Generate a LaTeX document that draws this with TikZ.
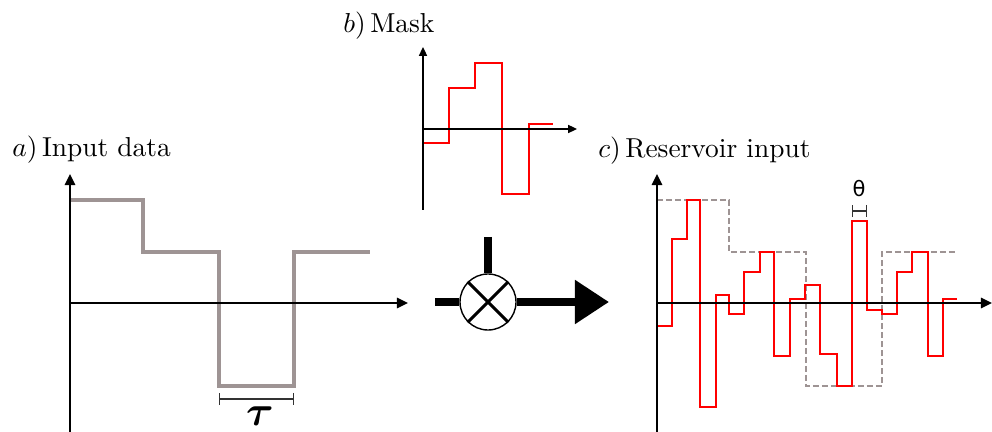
\documentclass[tikz,border=0pt]{standalone}
\usepackage{bm}
\usepackage{graphicx}
\usepackage{fontspec}
\newfontfamily\thetafont{DejaVu Sans}
\usetikzlibrary{arrows.meta}
\definecolor{datagray}{RGB}{158,148,148}
\newcommand{\paneltitle}[1]{\scalebox{1.95}{#1}}

\begin{document}
\begin{tikzpicture}[
    x={(0.025cm,0cm)}, y={(0cm,-0.025cm)},
    axis/.style={line width=1.4pt, -{Triangle[length=0.28cm,width=0.26cm]}},
    maskaxis/.style={line width=1.1pt, -{Triangle[length=0.22cm,width=0.2cm]}},
    datasig/.style={datagray, line width=2.9pt},
    datadash/.style={datagray, line width=1.4pt, dash pattern=on 4pt off 2.4pt},
    masksig/.style={red, line width=1.7pt},
    ressig/.style={red, line width=2.1pt},
    span/.style={black!80, line width=0.9pt, {Bar[width=0.3cm]}-{Bar[width=0.3cm]}},
    stem/.style={line width=5.7pt},
    mixer/.style={circle, draw, line width=1pt, fill=white, minimum size=1.4cm,
      inner sep=0pt},
    title/.style={anchor=base west, inner sep=0pt, font=\normalsize}]
  \useasboundingbox (0,0) rectangle (992,432);
  % titles
  \node[title] (tia) at (12,157)  {\paneltitle{$a)$\,Input data}};
  \node[title] (tib) at (343,33)  {\paneltitle{$b)$\,Mask}};
  \node[title] (tic) at (598,158) {\paneltitle{$c)$\,Reservoir input}};
  % a) input data
  \draw[datasig] (70,200) -- (143,200) -- (143,252) -- (219,252) -- (219,386)
    -- (294,386) -- (294,252) -- (370,252);
  \draw[span] (219,399) -- (294,399);
  \node[inner sep=0pt] (tau) at (260,416) {\scalebox{3}{$\bm{\tau}$}};
  \draw[axis] (70,432) -- (70,174);
  \draw[axis] (70,303) -- (408,303);
  % b) mask
  \draw[masksig] (423,143) -| (449,88) -| (475,63) -| (502,194) -| (529,124)
    -- (553,124);
  \draw[maskaxis] (423,210) -- (423,47);
  \draw[maskaxis] (423,129) -- (577,129);
  % multiplication
  \node[mixer] (mix) at (488,302) {};
  \coordinate (mixin)  at (435,302);
  \coordinate (mixtop) at (488,237);
  \coordinate (mixout) at (609,302);
  \draw[stem] (mixin) -- (mix.west);
  \draw[stem] (mixtop) -- (mix.north);
  \draw[stem, -{Triangle[length=0.85cm,width=1.05cm]}] (mix.east) -- (mixout);
  \draw[line width=2.1pt] (mix.north east) -- (mix.south west)
    (mix.north west) -- (mix.south east);
  % c) reservoir input
  \draw[datadash] (657,200) -- (729,200) -- (729,252) -- (806,252) -- (806,386)
    -- (882,386) -- (882,252) -- (957,252);
  \draw[ressig] (657,326) -| (672,239) -| (687,200) -| (700,407) -| (716,295)
    -| (729,314) -| (744,272) -| (760,252) -| (774,356) -| (790,299)
    -| (805,285) -| (820,354) -| (837,386) -| (852,221) -| (867,310)
    -| (882,314) -| (897,272) -| (912,252) -| (928,356) -| (943,299)
    -- (957,299);
  \draw[span] (852,211) -- (867,211);
  \node[font=\thetafont\fontsize{15pt}{18pt}\selectfont, inner sep=0pt] (theta)
    at (859,189) {θ};
  \draw[axis] (657,432) -- (657,174);
  \draw[axis] (657,303) -- (992,303);
\end{tikzpicture}
\end{document}
